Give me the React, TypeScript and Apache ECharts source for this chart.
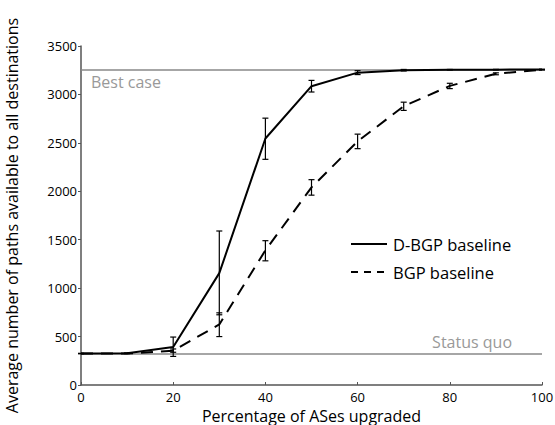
import React, { useEffect, useRef } from "react";
import * as echarts from "echarts";

const xValues = [0, 10, 20, 30, 40, 50, 60, 70, 80, 90, 100];
const dbgpMean = [325, 328, 393, 1155, 2545, 3085, 3225, 3250, 3255, 3256, 3258];
const dbgpLow = [325, 326, 295, 725, 2330, 3025, 3205, 3242, 3252, 3253, 3256];
const dbgpHigh = [325, 330, 495, 1590, 2755, 3145, 3245, 3258, 3258, 3259, 3260];
const bgpMean = [325, 325, 355, 625, 1390, 2040, 2515, 2878, 3088, 3213, 3255];
const bgpLow = [325, 324, 338, 500, 1282, 1960, 2440, 2835, 3060, 3203, 3252];
const bgpHigh = [325, 326, 372, 745, 1490, 2120, 2590, 2920, 3115, 3223, 3258];
const bestCase = 3255;
const statusQuo = 325;
const xTicks = { min: 0, max: 100, interval: 20 };
const yTicks = { min: 0, max: 3500, interval: 500 };
const seriesNames = ["D-BGP baseline", "BGP baseline"];
const refLabels = ["Best case", "Status quo"];

const FONT = "Open Sans";

export default function App() {
  const ref = useRef<HTMLDivElement>(null);
  useEffect(() => {
    if (!ref.current) return;
    const chart = echarts.init(ref.current, undefined, { renderer: "svg" });
    const errRender = (params: any, api: any) => {
      const x = api.value(0);
      const lo = api.value(1);
      const hi = api.value(2);
      const pTop = api.coord([x, hi]);
      const pBot = api.coord([x, lo]);
      const w = 3;
      const st = { stroke: "#000", lineWidth: 1.2 };
      return {
        type: "group",
        children: [
          { type: "line", shape: { x1: pTop[0], y1: pTop[1], x2: pBot[0], y2: pBot[1] }, style: st },
          { type: "line", shape: { x1: pTop[0] - w, y1: pTop[1], x2: pTop[0] + w, y2: pTop[1] }, style: st },
          { type: "line", shape: { x1: pBot[0] - w, y1: pBot[1], x2: pBot[0] + w, y2: pBot[1] }, style: st },
        ],
      };
    };
    const dErr = xValues.map((x, i) => [x, dbgpLow[i], dbgpHigh[i]]);
    const bErr = xValues.map((x, i) => [x, bgpLow[i], bgpHigh[i]]);
    chart.setOption({
      animation: false,
      textStyle: { fontFamily: FONT },
      grid: { left: 81, right: 13, top: 46, bottom: 40, containLabel: false, outerBoundsMode: "none" },
      xAxis: {
        type: "value",
        min: xTicks.min,
        max: xTicks.max,
        interval: xTicks.interval,
        name: "Percentage of ASes upgraded",
        nameLocation: "middle",
        nameGap: 10,
        nameTextStyle: { fontSize: 16, color: "#000", fontFamily: FONT },
        axisLine: { lineStyle: { color: "#555", width: 1.5 } },
        axisTick: { inside: true, length: 3, lineStyle: { color: "#555" } },
        axisLabel: { margin: 5, fontSize: 13, color: "#000", fontFamily: FONT },
        splitLine: { show: false },
      },
      yAxis: {
        type: "value",
        min: yTicks.min,
        max: yTicks.max,
        interval: yTicks.interval,
        name: "Average number of paths available to all destinations",
        nameLocation: "middle",
        nameRotate: 90,
        nameGap: 61,
        nameTextStyle: { fontSize: 16, color: "#000", fontFamily: FONT },
        axisLine: { show: true, lineStyle: { color: "#555", width: 1.5 } },
        axisTick: { show: true, inside: false, length: 3, lineStyle: { color: "#555" } },
        axisLabel: {
          margin: 4,
          fontSize: 13,
          color: "#000",
          fontFamily: FONT,
          formatter: (v: number) => String(v),
        },
        splitLine: { show: false },
      },
      series: [
        {
          type: "line",
          name: "refs",
          data: [],
          markLine: {
            silent: true,
            symbol: "none",
            lineStyle: { color: "#888", width: 1.5, type: "solid" },
            data: [
              {
                yAxis: bestCase,
                label: {
                  formatter: refLabels[0],
                  position: "insideStartBottom",
                  distance: [10, 4],
                  color: "#999",
                  fontSize: 16,
                  fontFamily: FONT,
                },
              },
              {
                yAxis: statusQuo,
                label: {
                  formatter: refLabels[1],
                  position: "insideEndTop",
                  distance: [30, 4],
                  color: "#999",
                  fontSize: 16,
                  fontFamily: FONT,
                },
              },
            ],
          },
        },
        {
          type: "line",
          name: seriesNames[0],
          data: xValues.map((x, i) => [x, dbgpMean[i]]),
          showSymbol: false,
          lineStyle: { color: "#000", width: 2 },
          z: 5,
        },
        {
          type: "line",
          name: seriesNames[1],
          data: xValues.map((x, i) => [x, bgpMean[i]]),
          showSymbol: false,
          lineStyle: { color: "#000", width: 2, type: [12, 8] },
          z: 5,
        },
        { type: "custom", name: "dErr", data: dErr, renderItem: errRender, z: 6 },
        { type: "custom", name: "bErr", data: bErr, renderItem: errRender, z: 6 },
      ],
      graphic: [
        { type: "line", shape: { x1: 351, y1: 244, x2: 387, y2: 244 }, style: { stroke: "#000", lineWidth: 2 } },
        {
          type: "text",
          x: 393,
          y: 244,
          style: { text: seriesNames[0], fontSize: 16.5, fontFamily: FONT, fill: "#000", verticalAlign: "middle" },
        },
        {
          type: "line",
          shape: { x1: 351, y1: 272, x2: 387, y2: 272 },
          style: { stroke: "#000", lineWidth: 2, lineDash: [7, 6] },
        },
        {
          type: "text",
          x: 393,
          y: 272,
          style: { text: seriesNames[1], fontSize: 16.5, fontFamily: FONT, fill: "#000", verticalAlign: "middle" },
        },
      ],
    });
    return () => chart.dispose();
  }, []);
  return <div ref={ref} style={{ width: 555, height: 425, position: "absolute", left: 0, top: 0 }} />;
}
